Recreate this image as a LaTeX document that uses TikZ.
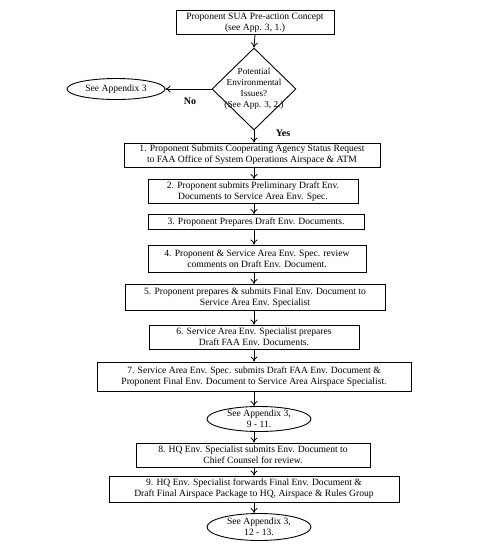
\documentclass[tikz,border=0pt]{standalone}
\usepackage{fontspec}
\setmainfont{Liberation Serif}
\usetikzlibrary{shapes.geometric,arrows.meta}
\begin{document}
\begin{tikzpicture}[x=1pt,y=-1pt,
  box/.style={draw, line width=0.9pt, align=center, inner sep=0pt, font=\fontsize{9.6}{10.8}\selectfont},
  oval/.style={draw, line width=0.9pt, ellipse, align=center, inner sep=0pt, font=\fontsize{9.6}{10.8}\selectfont},
  arr/.style={-{To[length=5pt,width=7pt]}, line width=0.8pt},
  lbl/.style={font=\fontsize{10}{11}\selectfont\bfseries}]
\useasboundingbox (0,0) rectangle (503,558);
\node[box, minimum width=158, minimum height=24] (top) at (255,22.5) {Proponent SUA Pre-action Concept\\(see App. 3, 1.)};
\node[draw, line width=0.9pt, diamond, minimum width=84, minimum height=82, inner sep=0pt] (dia) at (254,89) {};
\node[align=center, font=\fontsize{9.2}{11}\selectfont] (diat) at (254,89) {Potential\\Environmental\\Issues?\\(See App. 3, 2.)};
\node[oval, minimum width=98, minimum height=21] (ova) at (116,89) {See Appendix 3};
\node[lbl] (no) at (190,101) {No};
\node[lbl] (yes) at (283,133) {Yes};
\node[box, minimum width=256, minimum height=24] (b1) at (252,155) {1. Proponent Submits Cooperating Agency Status Request\\to FAA Office of System Operations Airspace \& ATM};
\node[box, minimum width=210, minimum height=24] (b2) at (253,191.5) {2. Proponent submits Preliminary Draft Env.\\Documents to Service Area Env. Spec.};
\node[box, minimum width=216, minimum height=15] (b3) at (256,222) {3. Proponent Prepares Draft Env. Documents.};
\node[box, minimum width=218, minimum height=27] (b4) at (257,258.5) {4. Proponent \& Service Area Env. Spec. review\\comments on Draft Env. Document.};
\node[box, minimum width=260, minimum height=26] (b5) at (255,297.5) {5. Proponent prepares \& submits Final Env. Document to\\Service Area Env. Specialist};
\node[box, minimum width=210, minimum height=24] (b6) at (254,337) {6. Service Area Env. Specialist prepares\\Draft FAA Env. Documents.};
\node[box, minimum width=314, minimum height=29] (b7) at (254,376.5) {7. Service Area Env. Spec. submits Draft FAA Env. Document \&\\Proponent Final Env. Document to Service Area Airspace Specialist.};
\node[oval, minimum width=104, minimum height=25] (ovb) at (259,419) {See Appendix 3,\\9 - 11.};
\node[box, minimum width=234, minimum height=24] (b8) at (253,455) {8. HQ Env. Specialist submits Env. Document to\\Chief Counsel for review.};
\node[box, minimum width=290, minimum height=26] (b9) at (254,489) {9. HQ Env. Specialist forwards Final Env. Document \&\\Draft Final Airspace Package to HQ, Airspace \& Rules Group};
\node[oval, minimum width=104, minimum height=27] (ovc) at (259,527) {See Appendix 3,\\12 - 13.};
\draw[arr] (top.south) -- (dia.north);
\draw[arr] (dia.west) -- (ova.east);
\draw[arr] (dia.south) -- (dia.south |- b1.north);
\draw[arr] (b1.south -| 254,0) -- (b2.north -| 254,0);
\draw[arr] (b2.south -| 254,0) -- (b3.north -| 254,0);
\draw[arr] (b3.south -| 254,0) -- (b4.north -| 254,0);
\draw[arr] (b4.south -| 254,0) -- (b5.north -| 254,0);
\draw[arr] (b5.south -| 254,0) -- (b6.north -| 254,0);
\draw[arr] (b6.south -| 254,0) -- (b7.north -| 254,0);
\draw[arr] (b7.south -| 254,0) -- (ovb.north -| 254,0);
\draw[arr] (ovb.south -| 254,0) -- (b8.north -| 254,0);
\draw[arr] (b8.south -| 254,0) -- (b9.north -| 254,0);
\draw[arr] (b9.south -| 254,0) -- (ovc.north -| 254,0);
\end{tikzpicture}
\end{document}
